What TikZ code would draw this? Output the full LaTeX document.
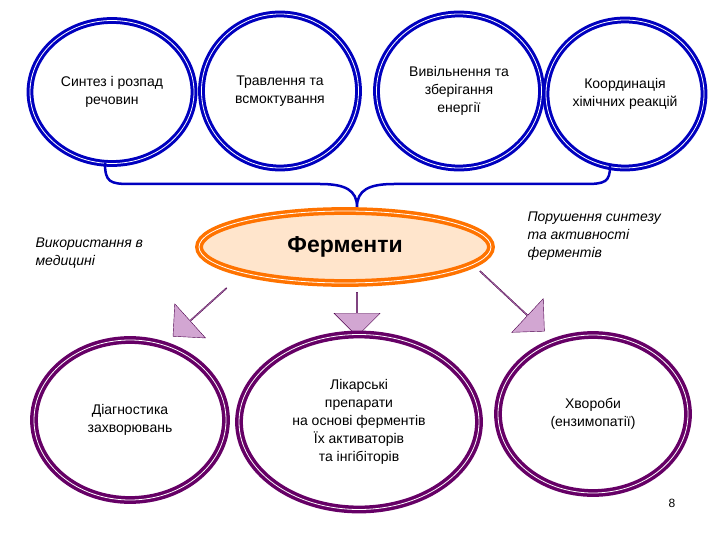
\documentclass[tikz,border=0pt]{standalone}
\usepackage{fontspec}
\setmainfont{Liberation Sans}
\usetikzlibrary{shapes.arrows,shapes.geometric}
\begin{document}
\begin{tikzpicture}[x=1pt,y=-1pt,
  bc/.style={ellipse,draw=blue!75!black,line width=3pt,double=white,double distance=0.8pt,align=center,inner sep=0pt,font=\fontsize{14}{18}\selectfont},
  pc/.style={ellipse,draw=violet!80!black,line width=3.5pt,double=white,double distance=0.8pt,align=center,inner sep=0pt,font=\fontsize{14}{18}\selectfont},
  fat/.style={single arrow,draw=violet!60!black,fill=violet!35,single arrow head extend=8pt,minimum height=#1,minimum width=46pt,inner sep=0pt},
  lab/.style={align=left,font=\fontsize{14}{18}\selectfont\itshape,anchor=north west}]
\useasboundingbox (0,0) rectangle (720,540);
\node[bc,minimum width=164pt,minimum height=143pt] (c1) at (112,92) {Синтез і розпад\\речовин};
\node[bc,minimum width=157pt,minimum height=154pt] (c2) at (280,91) {Травлення та\\всмоктування};
\node[bc,minimum width=165pt,minimum height=154pt] (c3) at (459,91) {Вивільнення та\\зберігання\\енергії};
\node[bc,minimum width=158pt,minimum height=148pt] (c4) at (625,94) {Координація\\хімічних реакцій};
\coordinate (b1) at (105,163);
\coordinate (b4) at (610,166);
\coordinate (tip) at (357,207);
\draw[blue!75!black,line width=2.5pt] (b1) .. controls (105,182) and (110,184) .. (130,184) -- (320,184) .. controls (345,184) and (357,190) .. (tip) .. controls (357,190) and (369,184) .. (394,184) -- (585,184) .. controls (605,184) and (610,182) .. (b4);
\node[ellipse,draw=orange!90!red,line width=3.5pt,double=white,double distance=0.8pt,fill=orange!20,minimum width=292pt,minimum height=72pt,font=\fontsize{23}{26}\selectfont\bfseries] (f) at (345,247) {Ферменти};
\node[lab] (l1) at (32,234) {Використання в\\медицині};
\node[lab] (l2) at (524,208) {Порушення синтезу\\та активності\\ферментів};
\node[fat=72pt,rotate=222] (a1) at (200,312) {};
\node[fat=44pt,rotate=-90] (a2) at (357,314) {};
\node[fat=88pt,rotate=-43] (a3) at (512,301) {};
\node[pc,minimum width=192pt,minimum height=160pt] (d1) at (130,420) {Діагностика\\захворювань};
\node[pc,minimum width=240pt,minimum height=175pt] (d2) at (359,422) {Лікарські\\препарати\\на основі ферментів\\Їх активаторів\\та інгібіторів};
\node[pc,minimum width=190pt,minimum height=158pt] (d3) at (593,414) {Хвороби\\(ензимопатії)};
\node[font=\fontsize{12}{14}\selectfont] (pg) at (672,503) {8};
\end{tikzpicture}
\end{document}
